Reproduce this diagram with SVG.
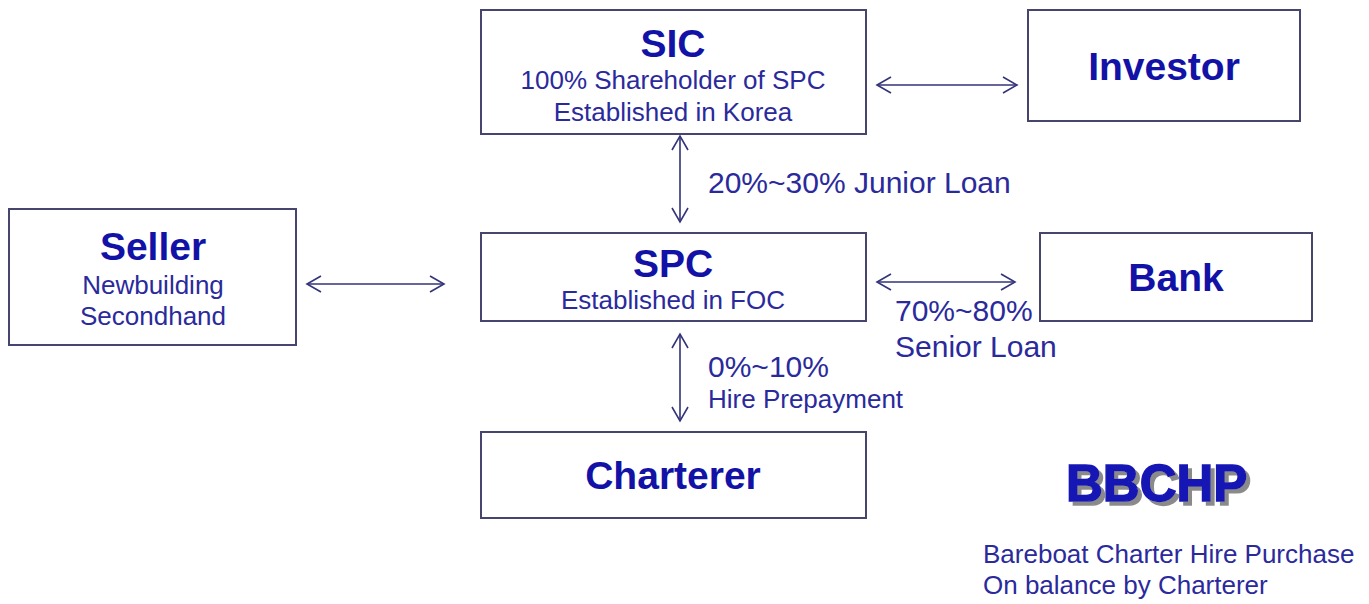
<svg xmlns="http://www.w3.org/2000/svg" width="1369" height="604" viewBox="0 0 1369 604">
  <defs>
    <marker id="ah" viewBox="-16 -10 18 20" refX="0" refY="0" markerWidth="18" markerHeight="20" markerUnits="userSpaceOnUse" orient="auto-start-reverse">
      <path d="M-14,-8 L0,0 L-14,8" fill="none" stroke="#33337a" stroke-width="1.6"/>
    </marker>
    <filter id="shadow" x="-10%" y="-20%" width="130%" height="150%">
      <feDropShadow dx="4" dy="4" stdDeviation="0.6" flood-color="#8a8a8a" flood-opacity="1"/>
    </filter>
  </defs>
  <style>
    .box { fill: #ffffff; stroke: #45456e; stroke-width: 2; }
    .title { font-family: "Liberation Sans", Arial, sans-serif; font-weight: bold; font-size: 39px; fill: #1212a6; text-anchor: middle; }
    .sub { font-family: "Liberation Sans", Arial, sans-serif; font-size: 26px; fill: #2a2a9c; text-anchor: middle; }
    .lbl { font-family: "Liberation Sans", Arial, sans-serif; font-size: 30px; fill: #2a2a9c; }
    .lbs { font-family: "Liberation Sans", Arial, sans-serif; font-size: 26px; fill: #2a2a9c; }
    .conn { stroke: #33337a; stroke-width: 1.6; fill: none; marker-start: url(#ah); marker-end: url(#ah); }
  </style>
  <rect width="1369" height="604" fill="#ffffff"/>

  <g id="sic">
    <rect class="box" x="481" y="10" width="385" height="124"/>
    <text class="title" x="673" y="57">SIC</text>
    <text class="sub" x="673" y="89">100% Shareholder of SPC</text>
    <text class="sub" x="673" y="121">Established in Korea</text>
  </g>

  <g id="investor">
    <rect class="box" x="1028" y="10" width="272" height="111"/>
    <text class="title" x="1164" y="80">Investor</text>
  </g>

  <g id="seller">
    <rect class="box" x="9" y="209" width="287" height="136"/>
    <text class="title" x="153" y="260">Seller</text>
    <text class="sub" x="153" y="294">Newbuilding</text>
    <text class="sub" x="153" y="325">Secondhand</text>
  </g>

  <g id="spc">
    <rect class="box" x="481" y="233" width="385" height="88"/>
    <text class="title" x="673" y="277">SPC</text>
    <text class="sub" x="673" y="309">Established in FOC</text>
  </g>

  <g id="bank">
    <rect class="box" x="1040" y="233" width="272" height="88"/>
    <text class="title" x="1176" y="291">Bank</text>
  </g>

  <g id="charterer">
    <rect class="box" x="481" y="432" width="385" height="86"/>
    <text class="title" x="673" y="489">Charterer</text>
  </g>

  <g id="connectors">
    <line class="conn" x1="877" y1="85" x2="1017" y2="85"/>
    <line class="conn" x1="680" y1="136" x2="680" y2="222"/>
    <line class="conn" x1="307" y1="284" x2="444" y2="284"/>
    <line class="conn" x1="877" y1="282" x2="1015" y2="282"/>
    <line class="conn" x1="680" y1="334" x2="680" y2="421"/>
  </g>

  <g id="labels">
    <text class="lbl" x="708" y="193" font-size="30.5">20%~30% Junior Loan</text>
    <text class="lbl" x="895" y="321">70%~80%</text>
    <text class="lbl" x="895" y="357">Senior Loan</text>
    <text class="lbl" x="708" y="377">0%~10%</text>
    <text class="lbs" x="708" y="408">Hire Prepayment</text>
  </g>

  <g id="bbchp">
    <text x="1066" y="501" font-family="Liberation Sans, Arial, sans-serif" font-weight="bold" font-size="51" fill="#1414b4" stroke="#1414b4" stroke-width="1.5" filter="url(#shadow)">BBCHP</text>
    <text class="lbs" x="983" y="563">Bareboat Charter Hire Purchase</text>
    <text class="lbs" x="983" y="594">On balance by Charterer</text>
  </g>
</svg>
